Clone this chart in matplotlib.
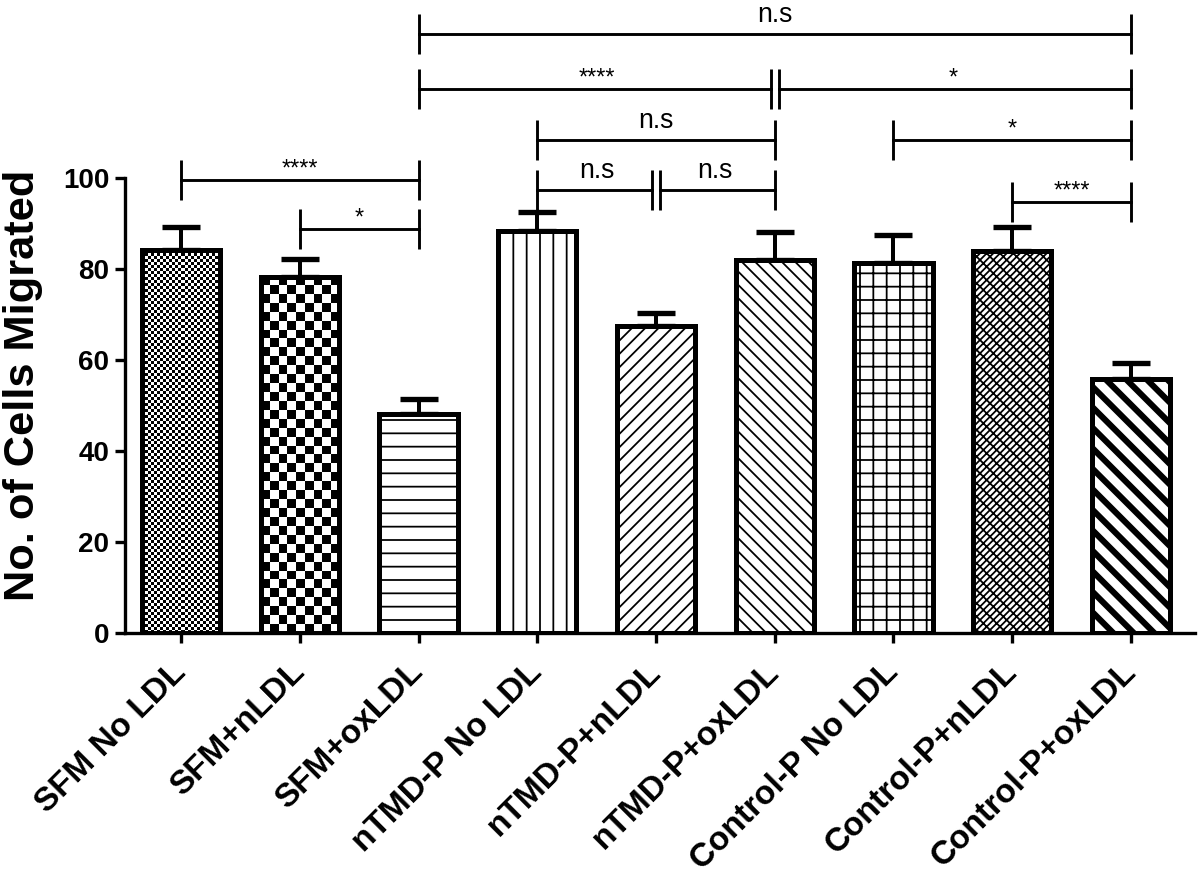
from matplotlib import pyplot as plt
import numpy as np

plt.rcParams['font.family'] = ['Liberation Sans', 'DejaVu Sans']
plt.rcParams['hatch.linewidth'] = 1.6
plt.rcParams['hatch.color'] = 'black'

# data
groups = ['SFM No LDL', 'SFM+nLDL', 'SFM+oxLDL',
          'nTMD-P No LDL', 'nTMD-P+nLDL', 'nTMD-P+oxLDL',
          'Control-P No LDL', 'Control-P+nLDL', 'Control-P+oxLDL']
means = [84.2, 78.3, 48.1, 88.4, 67.5, 82.1, 81.4, 84.0, 55.8]
errors = [5.0, 3.9, 3.3, 4.2, 2.8, 6.1, 6.1, 5.2, 3.5]

# significance brackets: (from group, to group, height, label)
brackets = [
    (2, 8, 131.8, 'n.s'),
    (2, 5, 119.7, '****'),
    (5, 8, 119.7, '*'),
    (3, 5, 108.4, 'n.s'),
    (6, 8, 108.4, '*'),
    (0, 2, 99.7, '****'),
    (3, 4, 97.4, 'n.s'),
    (4, 5, 97.4, 'n.s'),
    (7, 8, 94.8, '****'),
    (1, 2, 88.9, '*'),
]

hatches = ['', '', '-', '|', '//', '\\\\', '+', '////\\\\', '']

fig = plt.figure(figsize=(15, 10.9375), dpi=80)
ax = fig.add_axes([0.1042, 0.2766, 0.8916, 0.712])
ax.set_xlim(-0.4716, 8.539)
ax.set_ylim(0, 137)

x = np.arange(len(groups))
width = 0.66

ax.errorbar(x, means, yerr=[np.zeros(len(errors)), errors], fmt='none',
            ecolor='black', elinewidth=3.6, capsize=17, capthick=4.8, zorder=1)

bars = ax.bar(x, means, width, color='white', edgecolor='black',
              linewidth=4.5, zorder=2)
for b, h in zip(bars, hatches):
    b.set_hatch(h)

# pixel scale of the data coordinates
p0 = ax.transData.transform((0, 0))
p1 = ax.transData.transform((1, 1))
sx = p1[0] - p0[0]
sy = p1[1] - p0[1]

# checkerboard fills for the first two bars
for i, cell in [(0, 3.0), (1, 9.0)]:
    b = bars[i]
    ncol = max(1, int(round(b.get_width() * sx / cell)))
    nrow = max(1, int(round(b.get_height() * sy / cell)))
    rr, cc = np.indices((nrow, ncol))
    board = (rr + cc) % 2
    im = ax.imshow(board, cmap='gray', vmin=0, vmax=1, aspect='auto',
                   interpolation='nearest', zorder=2.5,
                   extent=(b.get_x(), b.get_x() + b.get_width(), 0, b.get_height()))
    im.set_clip_path(b)

# thick diagonal stripes for the last bar
b = bars[8]
X0, Y0 = ax.transData.transform((b.get_x(), 0))
X1, Y1 = ax.transData.transform((b.get_x() + b.get_width(), b.get_height()))
inv = ax.transData.inverted()
for C in np.arange(X0 + Y0 - 40, X1 + Y1 + 40, 20.5):
    pa = inv.transform((C - Y1 - 20, Y1 + 20))
    pb = inv.transform((C - Y0 + 20, Y0 - 20))
    ln, = ax.plot([pa[0], pb[0]], [pa[1], pb[1]], color='black', lw=5.5,
                  solid_capstyle='butt', zorder=2.5)
    ln.set_clip_path(b)

# outlines on top of the fills
ax.bar(x, means, width, fill=False, edgecolor='black', linewidth=4.5, zorder=3)

# brackets
gap = 4.0 / sx
tick_h = 4.4
ends = {}
for a, c, y, lab in brackets:
    ends.setdefault((y, a), []).append('start')
    ends.setdefault((y, c), []).append('end')
for a, c, y, lab in brackets:
    xa = a + (gap if len(ends[(y, a)]) > 1 else 0)
    xc = c - (gap if len(ends[(y, c)]) > 1 else 0)
    ax.plot([xa, xc], [y, y], color='black', lw=2.6, zorder=4, clip_on=False)
    ax.plot([xa, xa], [y - tick_h, y + tick_h], color='black', lw=2.6,
            zorder=4, clip_on=False, solid_capstyle='butt')
    ax.plot([xc, xc], [y - tick_h, y + tick_h], color='black', lw=2.6,
            zorder=4, clip_on=False, solid_capstyle='butt')
    if lab == 'n.s':
        ax.text((a + c) / 2, y + 2.6, lab, ha='center', va='baseline',
                fontsize=24, clip_on=False)
    else:
        ax.text((a + c) / 2, y + 1.0, lab, ha='center', va='baseline',
                fontsize=21, clip_on=False)

# axes styling
for s in ['top', 'right']:
    ax.spines[s].set_visible(False)
ax.spines['left'].set_bounds(0, 100)
ax.spines['left'].set_linewidth(3)
ax.spines['bottom'].set_linewidth(3)

ax.set_yticks([0, 20, 40, 60, 80, 100])
ax.tick_params(axis='y', length=9, width=3, pad=5, labelsize=25)
for t in ax.get_yticklabels():
    t.set_fontweight('bold')

ax.set_xticks(x)
ax.set_xticklabels(groups, rotation=45, ha='right', va='center',
                   rotation_mode='anchor', fontsize=30, fontweight='bold')
ax.tick_params(axis='x', length=9, width=3, pad=22)

fig.text(0.0195, 0.56, 'No. of Cells Migrated', rotation=90, ha='center',
         va='center', fontsize=39, fontweight='bold')

fig.savefig('out.png', dpi=80)
